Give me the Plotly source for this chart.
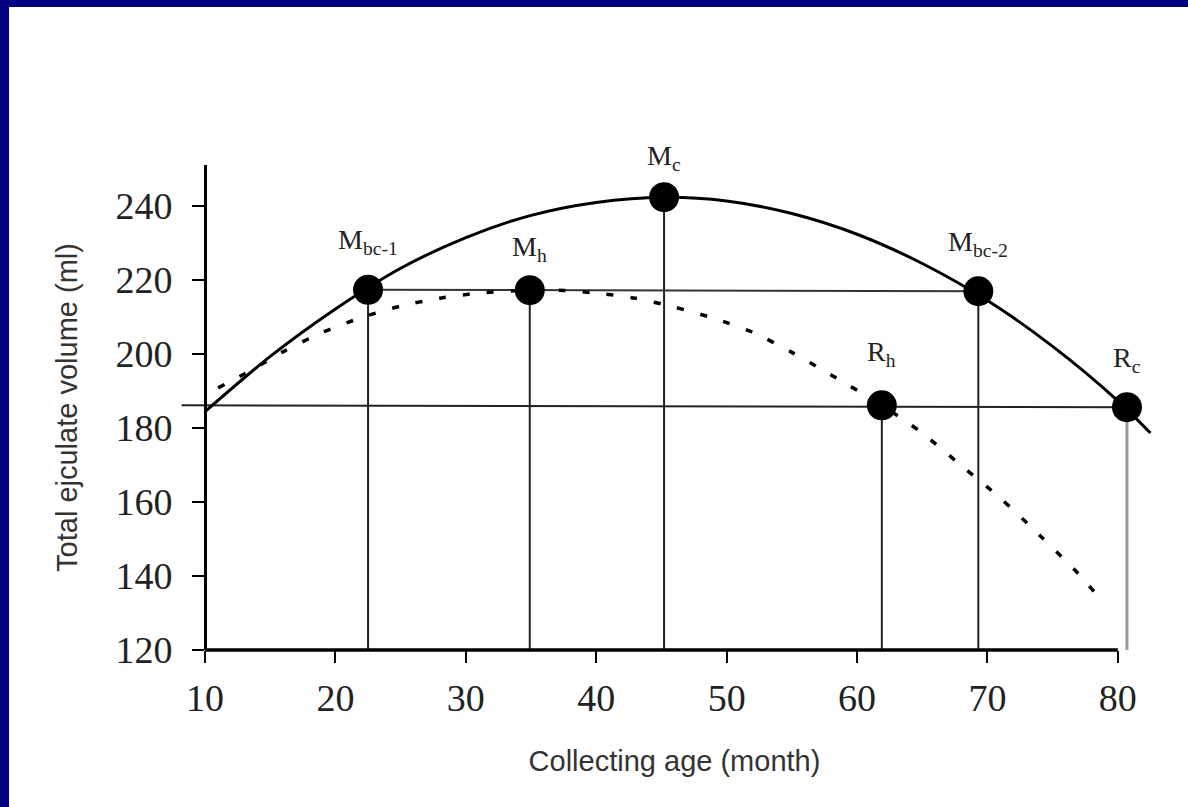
import plotly.graph_objects as go

# ---------------- data ----------------
x_ticks = [10, 20, 30, 40, 50, 60, 70, 80]
y_ticks = [120, 140, 160, 180, 200, 220, 240]

# solid curve
solid_x = [10, 15, 20, 25, 30, 35, 40, 45.2, 50, 55, 60, 65, 70, 75, 80, 82.5]
solid_y = [184.4, 199.3, 212.1, 223.1, 231.4, 237.4, 240.9, 242.3, 241.3, 237.9,
           232.3, 224.4, 214.4, 202.0, 187.3, 178.6]

# dashed curve
dash_x = [11.0, 13.4, 16.0, 19.0, 22.0, 25.0, 28.0, 31.0, 34.9, 37.5, 40.0, 43.0,
          46.0, 49.0, 52.0, 55.0, 58.0, 61.9, 65.0, 68.0, 71.0, 74.0, 77.0, 78.6]
dash_y = [190.8, 195.3, 200.6, 205.8, 209.8, 212.9, 215.0, 216.4, 217.2, 217.1, 216.4,
          215.0, 212.6, 209.6, 205.8, 200.4, 194.3, 186.1, 178.6, 169.8, 161.0, 151.0,
          140.5, 134.0]

# key points
point_names = ["M<sub>bc-1</sub>", "M<sub>h</sub>", "M<sub>c</sub>",
               "M<sub>bc-2</sub>", "R<sub>h</sub>", "R<sub>c</sub>"]
point_x = [22.5, 34.9, 45.2, 69.3, 61.9, 80.7]
point_y = [217.3, 217.2, 242.3, 216.9, 186.1, 185.6]
label_shift = [48, 42, 40, 48, 52, 48]

ref_line_start = 8.2   # left end of the lower horizontal reference line
y_floor = 120

# ---------------- layout geometry ----------------
W, H = 1188, 807
ml, mr, mt, mb = 179, 18, 165, 157
pw, ph = W - ml - mr, H - mt - mb
x_range = [8, 84]
y_range = [120, 251]

fig = go.Figure()

# vertical guide lines (point down to the x axis)
for i, (px, py) in enumerate(zip(point_x, point_y)):
    col = "#9a9a9a" if i == 5 else "#222222"
    wid = 3 if i == 5 else 2
    fig.add_trace(go.Scatter(x=[px, px], y=[py, y_floor], mode="lines",
                             line=dict(color=col, width=wid), hoverinfo="skip",
                             showlegend=False))

# horizontal guide lines
fig.add_trace(go.Scatter(x=[point_x[0], point_x[3]], y=[point_y[0], point_y[3]],
                         mode="lines", line=dict(color="#333333", width=2),
                         hoverinfo="skip", showlegend=False))
fig.add_trace(go.Scatter(x=[ref_line_start, point_x[5]], y=[point_y[4], point_y[5]],
                         mode="lines", line=dict(color="#222222", width=2),
                         hoverinfo="skip", showlegend=False))

# curves
fig.add_trace(go.Scatter(x=solid_x, y=solid_y, mode="lines",
                         line=dict(color="black", width=3, shape="spline", smoothing=0.8),
                         showlegend=False))
fig.add_trace(go.Scatter(x=dash_x, y=dash_y, mode="lines",
                         line=dict(color="black", width=3.5, dash="7px,17px",
                                   shape="spline", smoothing=0.8),
                         showlegend=False))

# key points
fig.add_trace(go.Scatter(x=point_x, y=point_y, mode="markers",
                         marker=dict(color="black", size=30),
                         cliponaxis=False, showlegend=False))

for name, px, py, sh in zip(point_names, point_x, point_y, label_shift):
    fig.add_annotation(x=px, y=py, xref="x", yref="y", text=name, showarrow=False,
                       yshift=sh, font=dict(family="Liberation Serif", size=28, color="#222222"))

# x axis line (from 10 to 80)
fig.add_shape(type="line", xref="x", yref="paper", x0=x_ticks[0], x1=x_ticks[-1],
              y0=0, y1=0, line=dict(color="black", width=3.5), layer="above")

# blue slide border (top and left)
fig.add_shape(type="rect", xref="paper", yref="paper",
              x0=-ml / pw, x1=(9 - ml) / pw,
              y0=-mb / ph, y1=(ph + mt) / ph,
              fillcolor="#000080", line=dict(width=0), layer="below")
fig.add_shape(type="rect", xref="paper", yref="paper",
              x0=-ml / pw, x1=(pw + mr) / pw,
              y0=(ph + mt - 7) / ph, y1=(ph + mt) / ph,
              fillcolor="#000080", line=dict(width=0), layer="below")

tick_font = dict(family="Liberation Serif", size=38, color="#222222")
title_font = dict(family="Liberation Sans", size=29, color="#333333")

fig.update_layout(
    width=W, height=H,
    margin=dict(l=ml, r=mr, t=mt, b=mb, pad=0),
    paper_bgcolor="white", plot_bgcolor="white",
    xaxis=dict(range=x_range, tickvals=x_ticks, showgrid=False, zeroline=False,
               showline=False, ticks="outside", ticklen=12, tickwidth=2,
               tickcolor="black", tickfont=tick_font, ticklabelstandoff=2,
               title=dict(text="Collecting age (month)", font=title_font, standoff=33),
               automargin=True),
    yaxis=dict(range=y_range, tickvals=y_ticks, showgrid=False, zeroline=False,
               showline=True, linecolor="black", linewidth=3,
               anchor="free", position=(x_ticks[0] - x_range[0]) / (x_range[1] - x_range[0]),
               ticks="outside", ticklen=12, tickwidth=2, tickcolor="black",
               tickfont=tick_font, ticklabelstandoff=12,
               title=dict(text="Total ejculate volume (ml)", font=title_font, standoff=28),
               automargin=True),
)

fig.write_html("out.html", config={"displayModeBar": False},
               post_script="document.body.style.margin='0';")
